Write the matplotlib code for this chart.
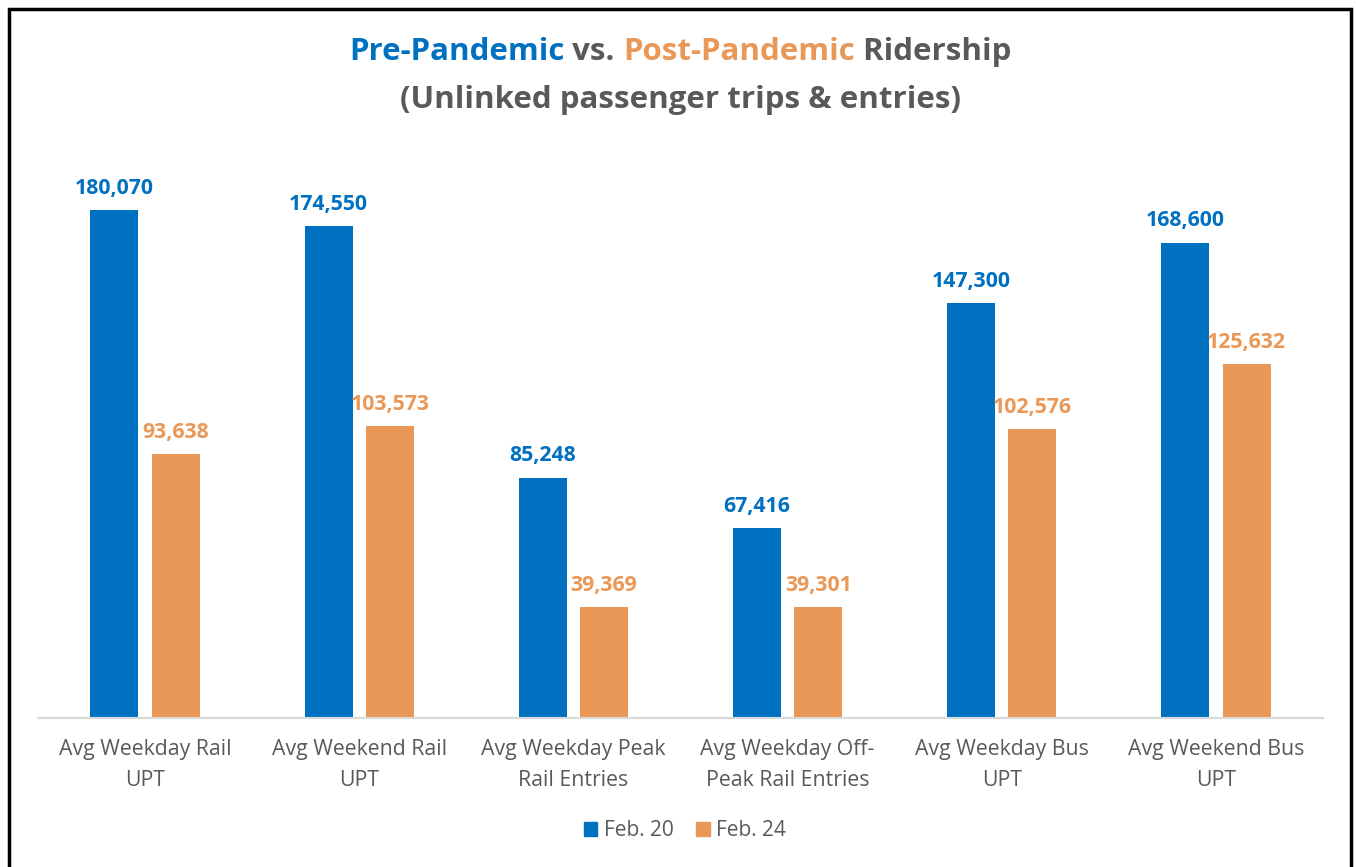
"""
Pre- vs post-pandemic ridership grouped bar chart.
"""
import matplotlib
matplotlib.use("Agg")
import matplotlib.pyplot as plt
import numpy as np
from matplotlib.patches import Rectangle, Patch

# data
categories = [
    "Avg Weekday Rail\nUPT",
    "Avg Weekend Rail\nUPT",
    "Avg Weekday Peak\nRail Entries",
    "Avg Weekday Off-\nPeak Rail Entries",
    "Avg Weekday Bus\nUPT",
    "Avg Weekend Bus\nUPT",
]
feb20 = [180070, 174550, 85248, 67416, 147300, 168600]
feb24 = [93638, 103573, 39369, 39301, 102576, 125632]
series_names = ["Feb. 20", "Feb. 24"]

BLUE = "#0070C0"
ORANGE = "#E99857"
GRAY = "#595959"
FONT = "Open Sans"

plt.rcParams["font.family"] = [FONT, "DejaVu Sans"]

fig = plt.figure(figsize=(13.56, 8.67), dpi=100)
W, H = 1356, 867
ax = fig.add_axes([38 / W, (H - 718) / H, (1323 - 38) / W, (718 - 154) / H])

x = np.arange(len(categories))
width = 0.224
off = 0.143
b1 = ax.bar(x - off, feb20, width, color=BLUE, zorder=2)
b2 = ax.bar(x + off, feb24, width, color=ORANGE, zorder=2)

for bars, vals, col in [(b1, feb20, BLUE), (b2, feb24, ORANGE)]:
    for r, v in zip(bars, vals):
        ax.annotate(f"{v:,}", (r.get_x() + r.get_width() / 2, v),
                    xytext=(0, 8), textcoords="offset points",
                    ha="center", va="bottom", color=col,
                    fontsize=15.3, fontweight="bold")

ax.set_xlim(-0.5, len(categories) - 0.5)
ax.set_ylim(0, 200000)
ax.set_yticks([])
ax.set_xticks(x)
ax.set_xticklabels(categories, fontsize=15.3, color=GRAY, linespacing=1.66)
ax.tick_params(axis="x", length=0, pad=15)
for s in ["top", "right", "left"]:
    ax.spines[s].set_visible(False)
ax.spines["bottom"].set_color("#D9D9D9")
ax.spines["bottom"].set_linewidth(1.5)

# legend
handles = [Patch(color=BLUE), Patch(color=ORANGE)]
fig.legend(handles, series_names, loc="center", bbox_to_anchor=(685 / W, (H - 831) / H),
           ncol=2, frameon=False, fontsize=15, handlelength=0.65, handleheight=0.65,
           handletextpad=0.3, columnspacing=1.1, labelcolor=GRAY)

# title, coloured pieces
renderer = fig.canvas.get_renderer()
def colored_line(parts, y, size):
    texts = [fig.text(0, y, p, color=c, fontsize=size, fontweight="bold",
                      ha="left", va="center") for p, c in parts]
    widths = [t.get_window_extent(renderer).width for t in texts]
    total = sum(widths)
    start = 680 - total / 2
    for t, w in zip(texts, widths):
        t.set_x(start / W)
        start += w

colored_line([("Pre-Pandemic", BLUE), (" vs. ", GRAY), ("Post-Pandemic", ORANGE),
              (" Ridership", GRAY)], (H - 52) / H, 22.5)
colored_line([("(Unlinked passenger trips & entries)", GRAY)], (H - 100) / H, 22.5)

# frame
fig.patches.append(Rectangle((9 / W, -0.05), (1351 - 9) / W, (H - 9) / H + 0.05,
                             transform=fig.transFigure, fill=False,
                             edgecolor="black", linewidth=2.5, zorder=10))

fig.savefig("out.png", dpi=100)
